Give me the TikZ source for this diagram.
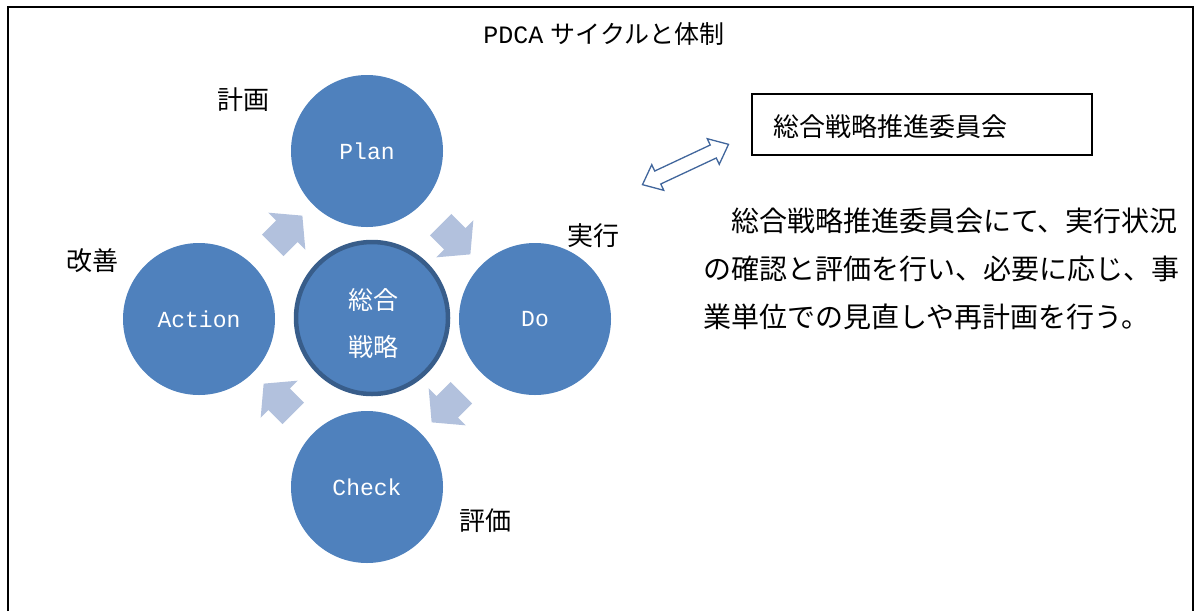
\documentclass[tikz,border=0pt]{standalone}
\usepackage{fontspec}
\usetikzlibrary{shapes.arrows,calc}
\newfontfamily\jp{Noto Sans CJK JP}
\newfontfamily\lat{Liberation Mono}
\definecolor{cfill}{HTML}{4F81BD}
\definecolor{cborder}{HTML}{385D8A}
\definecolor{afill}{HTML}{B2C1DD}
\definecolor{aline}{HTML}{41669C}
\begin{document}
\begin{tikzpicture}[x=1pt,y=-1pt,
  cyc/.style={circle, fill=cfill, minimum size=152pt, inner sep=0pt, text=white, font=\lat\fontsize{23}{28}\selectfont},
  core/.style={circle, fill=cfill, draw=cborder, line width=4.5pt, minimum size=152pt, inner sep=0pt},
  coretxt/.style={inner sep=0pt, text=white, align=center, font=\jp\fontsize{25}{47}\selectfont},
  flow/.style={single arrow, fill=afill, draw=none, minimum height=42pt, inner xsep=0pt, inner ysep=15pt, single arrow head extend=11pt, single arrow tip angle=100},
  link/.style={double arrow, draw=aline, fill=white, line width=1.3pt, minimum height=95pt, inner xsep=0pt, inner ysep=6.5pt, double arrow head extend=7pt, double arrow tip angle=80},
  lbl/.style={font=\jp\fontsize{26}{30}\selectfont, inner sep=0pt},
  box/.style={draw=black, line width=1.2pt, minimum width=340pt, minimum height=61pt, inner sep=0pt},
]
\useasboundingbox (0,0) rectangle (1201,611);
\draw[line width=2pt] (8,611) -- (8,7) -- (1193,7) -- (1193,611);

\node[font=\fontsize{25}{30}\selectfont, inner sep=0pt] (title) at (604,34) {{\lat PDCA} {\jp サイクルと体制}};

\node[cyc] (plan) at (367,151) {Plan};
\node[cyc] (do) at (535,319) {Do};
\node[cyc] (check) at (367,487) {Check};
\node[cyc] (action) at (199,319) {Action};
\node[core] (core) at (372,318) {};
\node[coretxt] (coretext) at (373,323) {総合\\戦略};

\node[flow, rotate=-45] (pd) at ($(plan)!0.5!(do)$) {};
\node[flow, rotate=-135] (dc) at ($(do)!0.5!(check)$) {};
\node[flow, rotate=135] (ca) at ($(check)!0.5!(action)$) {};
\node[flow, rotate=45] (ap) at ($(action)!0.5!(plan)$) {};

\node[lbl] (lplan) at (243,100) {計画};
\node[lbl] (ldo) at (593,236) {実行};
\node[lbl] (laction) at (92,261) {改善};
\node[lbl] (lcheck) at (485,521) {評価};

\node[link, rotate=25.1] (dbl) at (685.5,164.5) {};

\node[box] (comm) at (922,124.5) {};
\node[lbl, anchor=west] (commtext) at (773,127) {総合戦略推進委員会};

\node[anchor=north west, inner sep=0pt, align=left, font=\jp\fontsize{28}{48}\selectfont] (para) at (703,208) {　総合戦略推進委員会にて、実行状況\\の確認と評価を行い、必要に応じ、事\\業単位での見直しや再計画を行う。};
\end{tikzpicture}
\end{document}
